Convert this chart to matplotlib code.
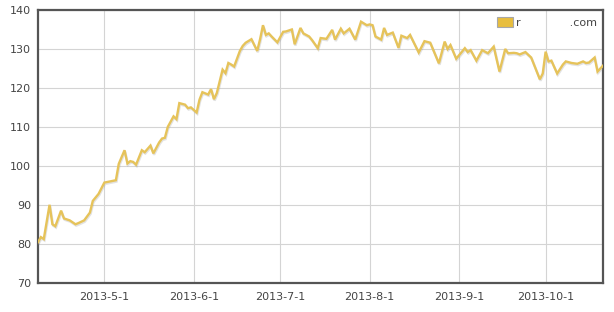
import matplotlib
matplotlib.use("Agg")
import matplotlib.pyplot as plt
import matplotlib.patheffects as pe
from matplotlib.patches import Patch
import pandas as pd

dates = [
    "2013-04-08", "2013-04-09", "2013-04-10", "2013-04-12", "2013-04-13", "2013-04-14",
    "2013-04-16", "2013-04-17", "2013-04-19", "2013-04-21", "2013-04-22", "2013-04-24",
    "2013-04-26", "2013-04-27", "2013-04-29", "2013-05-01", "2013-05-03", "2013-05-05",
    "2013-05-06", "2013-05-08", "2013-05-09", "2013-05-10", "2013-05-11", "2013-05-12",
    "2013-05-14", "2013-05-15", "2013-05-17", "2013-05-18", "2013-05-20", "2013-05-21",
    "2013-05-22", "2013-05-23", "2013-05-25", "2013-05-26", "2013-05-27", "2013-05-29",
    "2013-05-30", "2013-05-31", "2013-06-02", "2013-06-03", "2013-06-04", "2013-06-06",
    "2013-06-07", "2013-06-08", "2013-06-09", "2013-06-11", "2013-06-12", "2013-06-13",
    "2013-06-14", "2013-06-15", "2013-06-17", "2013-06-18", "2013-06-19", "2013-06-21",
    "2013-06-23", "2013-06-24", "2013-06-25", "2013-06-26", "2013-06-27", "2013-06-28",
    "2013-06-30", "2013-07-02", "2013-07-03", "2013-07-05", "2013-07-06", "2013-07-08",
    "2013-07-09", "2013-07-11", "2013-07-12", "2013-07-14", "2013-07-15", "2013-07-17",
    "2013-07-19", "2013-07-20", "2013-07-22", "2013-07-23", "2013-07-25", "2013-07-27",
    "2013-07-29", "2013-07-31", "2013-08-01", "2013-08-02", "2013-08-03", "2013-08-05",
    "2013-08-06", "2013-08-07", "2013-08-09", "2013-08-11", "2013-08-12", "2013-08-14",
    "2013-08-15", "2013-08-18", "2013-08-20", "2013-08-22", "2013-08-25", "2013-08-27",
    "2013-08-28", "2013-08-29", "2013-08-31", "2013-09-03", "2013-09-04", "2013-09-05",
    "2013-09-07", "2013-09-09", "2013-09-11", "2013-09-13", "2013-09-15", "2013-09-17",
    "2013-09-18", "2013-09-20", "2013-09-21", "2013-09-22", "2013-09-24", "2013-09-26",
    "2013-09-29", "2013-09-30", "2013-10-01", "2013-10-02", "2013-10-03", "2013-10-05",
    "2013-10-07", "2013-10-08", "2013-10-10", "2013-10-12", "2013-10-14", "2013-10-15",
    "2013-10-16", "2013-10-18", "2013-10-19", "2013-10-21",
]
values = [
    80.4, 81.7, 81.2, 90.0, 85.0, 84.5,
    88.5, 86.5, 86.0, 85.0, 85.3, 86.0,
    88.0, 91.0, 92.8, 95.7, 96.0, 96.3,
    100.5, 104.0, 100.6, 101.2, 101.0, 100.3,
    104.0, 103.5, 105.2, 103.2, 106.0, 107.0,
    107.2, 110.0, 112.7, 112.0, 116.1, 115.7,
    114.8, 115.0, 113.7, 117.0, 118.9, 118.3,
    119.7, 117.1, 118.7, 124.7, 123.8, 126.4,
    126.0, 125.5, 129.5, 130.8, 131.6, 132.5,
    129.5, 132.5, 136.1, 133.6, 134.0, 133.2,
    131.7, 134.4, 134.5, 135.0, 131.2, 135.4,
    134.0, 133.2, 132.3, 130.2, 132.8, 132.6,
    134.9, 132.4, 135.2, 134.0, 135.2, 132.4,
    137.0, 136.1, 136.3, 136.1, 133.2, 132.4,
    135.4, 133.6, 134.2, 130.3, 133.4, 132.8,
    133.6, 129.1, 132.0, 131.6, 126.3, 131.9,
    130.0, 131.0, 127.5, 130.2, 129.2, 129.7,
    127.0, 129.7, 128.9, 130.6, 124.2, 130.0,
    128.9, 129.0, 128.9, 128.6, 129.2, 127.8,
    122.2, 123.7, 129.3, 126.8, 127.0, 123.7,
    126.0, 126.8, 126.4, 126.2, 126.8, 126.4,
    126.5, 127.8, 124.2, 125.8,
]
month_ticks = ["2013-05-01", "2013-06-01", "2013-07-01", "2013-08-01", "2013-09-01", "2013-10-01"]
y_ticks = [70, 80, 90, 100, 110, 120, 130, 140]
legend_label = "r              .com"

x = pd.to_datetime(dates)
fig = plt.figure(figsize=(6.14, 3.12), dpi=100)
ax = fig.add_axes([38 / 614, 1 - 282.7 / 312, (603.3 - 38) / 614, (282.7 - 10) / 312])

line_color = "#E6C35A"
ax.plot(x, values, color=line_color, lw=1.7, solid_joinstyle="miter", zorder=3,
        path_effects=[pe.SimpleLineShadow(offset=(0.5, -1.0), shadow_color="#999999", alpha=0.28),
                      pe.Normal()])

ax.set_xlim(pd.Timestamp("2013-04-08"), pd.Timestamp("2013-10-21"))
ax.set_ylim(70, 140)
ax.set_yticks(y_ticks)
ticks = pd.to_datetime(month_ticks)
ax.set_xticks(ticks)
ax.set_xticklabels([f"{t.year}-{t.month}-{t.day}" for t in ticks])

ax.grid(True, color="#D4D4D4", lw=0.8, zorder=0)
ax.set_axisbelow(True)
for s in ax.spines.values():
    s.set_color("#555555")
    s.set_linewidth(1.6)
ax.tick_params(length=0, labelsize=8, colors="#444444")
ax.tick_params(axis="y", pad=5)
ax.tick_params(axis="x", pad=7)

handle = Patch(facecolor="#E8BE3E", edgecolor="#A8A8A8", lw=0.8)
ax.legend([handle], [legend_label], loc="upper left", frameon=False,
          bbox_to_anchor=(497 / 614, 1 - 17 / 312), bbox_transform=fig.transFigure,
          borderpad=0, borderaxespad=0, handlelength=1.45, handleheight=1.0,
          handletextpad=0.3, prop={"size": 8}, labelcolor="#444444")

fig.savefig("out.png", dpi=100)
